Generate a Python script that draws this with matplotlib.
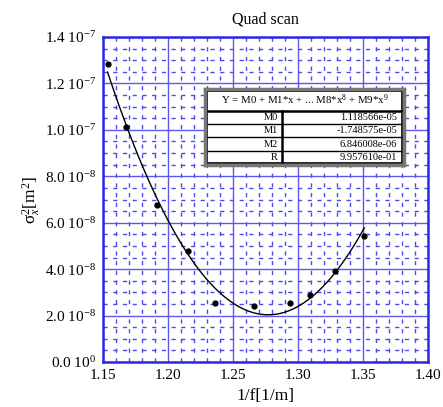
import matplotlib.pyplot as plt
import numpy as np

plt.rcParams['font.family'] = ['Liberation Serif', 'DejaVu Serif']
plt.rcParams['mathtext.fontset'] = 'custom'
plt.rcParams['mathtext.rm'] = 'Liberation Serif'
plt.rcParams['mathtext.it'] = 'Liberation Serif:italic'

# measured points (1/f, sigma_x^2)
inv_f = [1.1535, 1.1679, 1.1912, 1.2151, 1.2362, 1.2664, 1.2941, 1.3095, 1.3287, 1.3510]
sigma2 = [1.284e-7, 1.014e-7, 6.77e-8, 4.77e-8, 2.56e-8, 2.43e-8, 2.54e-8, 2.90e-8, 3.91e-8, 5.41e-8]

# fit coefficients shown in the table
coef_names = ['M0', 'M1', 'M2', 'R']
coef_vals = [1.118566e-05, -1.748575e-05, 6.846008e-06, 9.957610e-01]

xticks = [1.15, 1.20, 1.25, 1.30, 1.35, 1.40]
yticks = [0, 2e-8, 4e-8, 6e-8, 8e-8, 1.0e-7, 1.2e-7, 1.4e-7]
ylabels = [r'0.0 10$^{0}$', r'2.0 10$^{-8}$', r'4.0 10$^{-8}$', r'6.0 10$^{-8}$',
           r'8.0 10$^{-8}$', r'1.0 10$^{-7}$', r'1.2 10$^{-7}$', r'1.4 10$^{-7}$']

fig = plt.figure(figsize=(4.43, 4.07), dpi=100)
ax = fig.add_axes([103 / 443, 1 - 362 / 407, 325 / 443, 325 / 407])

blue = '#2a2ae6'
ax.set_xlim(1.15, 1.40)
ax.set_ylim(0, 1.4e-7)
ax.set_xticks(xticks)
ax.set_xticklabels(['%.2f' % t for t in xticks], fontsize=11)
ax.set_yticks(yticks)
ax.set_yticklabels(ylabels, fontsize=11)
ax.set_xticks(np.arange(1.15, 1.40, 0.01), minor=True)
ax.set_yticks(np.arange(0, 1.4e-7, 0.5e-8), minor=True)
ax.tick_params(which='both', length=0, pad=5)
ax.grid(which='major', color='#5a5af0', lw=1.0)
ax.grid(which='minor', color='#4a4af0', lw=1.0, ls=(0, (3, 4)))
ax.set_axisbelow(True)
for s in ax.spines.values():
    s.set_color(blue)
    s.set_linewidth(1.8)

# fit curve
xf = np.linspace(min(inv_f), max(inv_f), 200)
yf = coef_vals[0] + coef_vals[1] * xf + coef_vals[2] * xf ** 2
ax.plot(xf, yf, color='black', lw=1.0)
ax.plot(inv_f, sigma2, 'o', color='black', ms=3.5)

ax.set_title('Quad scan', fontsize=11.5, pad=10)
ax.set_xlabel('1/f[1/m]', fontsize=12.5, labelpad=4)
ax.set_ylabel('σ$^2_x$[m$^2$]', fontsize=12.5, labelpad=2)

# fit table
tx0, tx1, ty0, ty1 = 205 / 443, 404 / 443, 1 - 165 / 407, 1 - 89 / 407
tab = fig.add_axes([tx0, ty0, tx1 - tx0, ty1 - ty0])
tab.set_xlim(0, 1)
tab.set_ylim(0, 1)
tab.set_xticks([])
tab.set_yticks([])
tab.set_facecolor('white')
for s in tab.spines.values():
    s.set_color('#777777')
    s.set_linewidth(2.5)
tab.add_patch(plt.Rectangle((0.012, 0.02), 0.976, 0.955, fill=False, ec='black', lw=1.2,
                            transform=tab.transAxes))
hdr = 1 - 22 / 76
tab.axhline(hdr, xmin=0.012, xmax=0.988, color='black', lw=1.8)
rh = hdr / 4
for i in range(1, 4):
    tab.axhline(i * rh + 0.01, xmin=0.012, xmax=0.988, color='black', lw=1.0)
cx = (282 - 205) / (404 - 205)
tab.plot([cx, cx], [0.02, hdr], color='black', lw=1.8)
tab.text(0.5, (1 + hdr) / 2, r'Y = M0 + M1*x + ... M8*x$^8$ + M9*x$^9$', ha='center',
         va='center', fontsize=7.8)
for i, (n, v) in enumerate(zip(coef_names, coef_vals)):
    yc = hdr - (i + 0.5) * rh + 0.005
    tab.text(cx - 0.02, yc, n, ha='right', va='center', fontsize=7.5)
    tab.text(0.965, yc, '%.6e' % v, ha='right', va='center', fontsize=7.5)

fig.savefig('out.png', dpi=100)
